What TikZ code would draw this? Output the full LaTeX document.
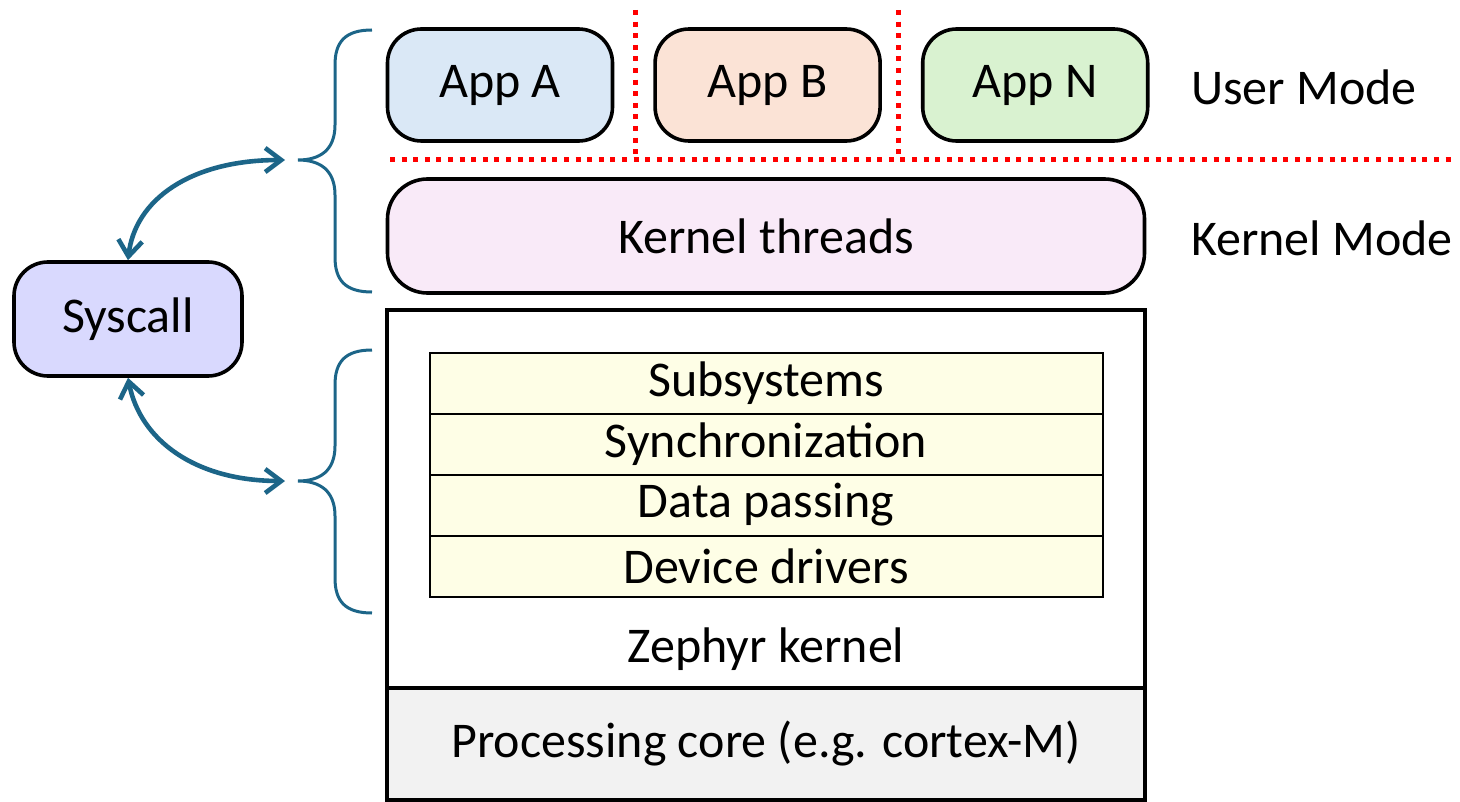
\documentclass[tikz,border=0pt]{standalone}
\usepackage{fontspec}
\setmainfont{Carlito}
\usetikzlibrary{arrows.meta, positioning}
\definecolor{appAfill}{HTML}{DAE8F6}
\definecolor{appBfill}{HTML}{FBE3D6}
\definecolor{appNfill}{HTML}{D9F2D0}
\definecolor{kthrfill}{HTML}{F9EAF8}
\definecolor{sysfill}{HTML}{D9D9FE}
\definecolor{layerfill}{HTML}{FEFEE6}
\definecolor{corefill}{HTML}{F2F2F2}
\definecolor{linkblue}{HTML}{1C6588}
\tikzset{
  txt/.style={font=\fontsize{25}{30}\selectfont},
  box/.style={txt, draw, line width=1.8pt, rounded corners=17pt, minimum width=112.5pt, minimum height=56pt},
  app/.style={box},
  block/.style={txt, draw, line width=1.8pt, outer sep=0pt, minimum width=379pt},
  layer/.style={txt, draw, line width=1pt, outer sep=0pt, fill=layerfill, minimum width=336.5pt, minimum height=30.5pt, inner sep=0pt},
  mode/.style={txt, anchor=west},
  sep/.style={red, line width=2.5pt, dash pattern=on 2.5pt off 3.3pt},
  brace/.style={linkblue, line width=1.5pt},
  syslink/.style={linkblue, line width=2.3pt, >={Straight Barb[length=8pt,width=12pt]}, <->},
}

\begin{document}
\begin{tikzpicture}[x=0.5pt, y=-0.5pt, node distance=19.5pt]
  \useasboundingbox (0,0) rectangle (1460,802);

  % user mode
  \node[app, fill=appAfill] (appa) at (500,85) {App A};
  \node[app, fill=appBfill, right=of appa] (appb) {App B};
  \node[app, fill=appNfill, right=of appb] (appn) {App N};
  \node[mode] (user) at (1184,87) {User Mode};

  \draw[sep] (635,10) -- (635,160);
  \draw[sep] (898,10) -- (898,160);
  \draw[sep] (390,160) -- (1452,160);

  % kernel mode
  \node[box, rounded corners=20pt, minimum width=378.5pt, minimum height=57pt, fill=kthrfill] (kthreads) at (766,236) {Kernel threads};
  \node[mode] (kmode) at (1184,238) {Kernel Mode};

  \node[block, minimum height=189pt] (kernel) at (766,499) {};
  \node[layer] (subsys) at (766,383) {Subsystems};
  \node[layer, below=0pt of subsys] (sync) {Synchronization};
  \node[layer, below=0pt of sync] (data) {Data passing};
  \node[layer, below=0pt of data] (drivers) {Device drivers};
  \node[txt] (zlabel) at (766,649) {Zephyr kernel};
  \node[block, fill=corefill, minimum height=56pt, below=0pt of kernel] (core) {Processing core (e.g. cortex-M)};

  % syscall
  \node[box, minimum width=114pt, minimum height=57pt, fill=sysfill] (syscall) at (128,319) {Syscall};
  \coordinate (uend) at (285,160);
  \coordinate (kend) at (285,481);

  \foreach \ya/\yb/\yc in {30/160/292, 350/481/613}
    \draw[brace] (372,\ya) .. controls (345,\ya) and (335,{\ya+12}) .. (335,{\ya+35})
      -- (335,{\yb-35}) .. controls (335,{\yb-10}) and (320,\yb) .. (298,\yb)
      .. controls (320,\yb) and (335,{\yb+10}) .. (335,{\yb+35})
      -- (335,{\yc-35}) .. controls (335,{\yc-12}) and (345,\yc) .. (372,\yc);

  \draw[syslink] (syscall.north) .. controls (135,200) and (190,160) .. (uend);
  \draw[syslink] (syscall.south) .. controls (140,440) and (195,481) .. (kend);
\end{tikzpicture}
\end{document}
